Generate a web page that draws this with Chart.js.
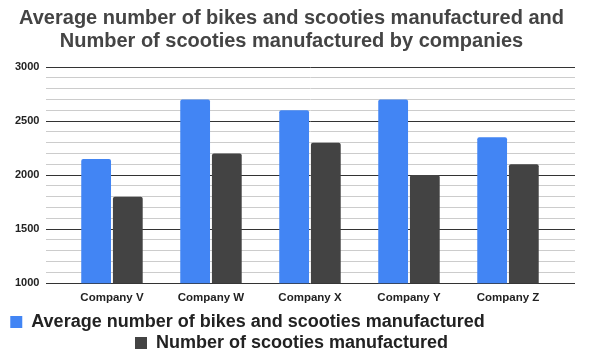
<!DOCTYPE html>
<html><head><meta charset="utf-8">
<script src="https://cdn.jsdelivr.net/npm/chart.js@4"></script>
<style>html,body{margin:0;padding:0;background:#fff}#wrap{width:597px;height:357px}</style>
</head><body><div id="wrap"><canvas id="c"></canvas></div>
<script>
const categories = ['Company V','Company W','Company X','Company Y','Company Z'];
const avgBikesScooties = [2150, 2700, 2600, 2700, 2350];
const scooties = [1800, 2200, 2300, 2000, 2100];
const seriesNames = ['Average number of bikes and scooties manufactured','Number of scooties manufactured'];
const titleLines = ['Average number of bikes and scooties manufactured and','Number of scooties manufactured by companies'];
const yMin = 1000, yMax = 3000, yMajor = 500, yMinor = 100;

// keep categories inset from the gridline ends, and place the legend rows like the reference
const insetPlugin = {
  id: 'inset',
  afterLayout(chart) {
    const x = chart.scales.x;
    x.left = chart.chartArea.left + 16;
    x.right = chart.chartArea.right - 17.5;
    x.width = x.right - x.left;
    x.configure();
    const lg = chart.legend;
    if (lg) {
      lg.top += 5; lg.bottom += 5;
      if (lg.lineWidths && lg.lineWidths.length) lg.lineWidths[0] += 88;
    }
  }
};

new Chart(document.getElementById('c'), {
  type: 'bar',
  data: {
    labels: categories,
    datasets: [
      {label: seriesNames[0], data: avgBikesScooties, backgroundColor: '#4285f4', borderRadius: 2, borderSkipped: 'bottom', barPercentage: 0.94, categoryPercentage: 0.64},
      {label: seriesNames[1], data: scooties, backgroundColor: '#434343', borderRadius: 2, borderSkipped: 'bottom', barPercentage: 0.94, categoryPercentage: 0.64}
    ]
  },
  plugins: [insetPlugin],
  options: {
    responsive: true, maintainAspectRatio: false, animation: false,
    layout: {padding: {left: 8, right: 22, top: 0, bottom: 0}},
    plugins: {
      title: {display: true, text: titleLines, color: '#444', font: {family: 'Liberation Sans', size: 20, weight: 'bold', lineHeight: 1.15}, padding: {top: 7, bottom: 14}},
      legend: {position: 'bottom', labels: {color: '#222', font: {family: 'Liberation Sans', size: 18, weight: 'bold'}, boxWidth: 12, boxHeight: 12, padding: 3}},
      tooltip: {enabled: false}
    },
    scales: {
      x: {grid: {display: false}, border: {display: false}, ticks: {color: '#222', font: {family: 'Liberation Sans', size: 11.5, weight: 'bold'}, padding: 0}},
      y: {min: yMin, max: yMax, border: {display: false},
        grid: {color: ctx => (ctx.tick && ctx.tick.value % yMajor === 0) ? '#333' : '#ccc', drawTicks: false},
        ticks: {stepSize: yMinor, autoSkip: false, color: '#222', padding: 7, font: {family: 'Liberation Sans', size: 11, weight: 'bold'},
          callback: v => v % yMajor === 0 ? v : ''}}
    }
  }
});
</script></body></html>
